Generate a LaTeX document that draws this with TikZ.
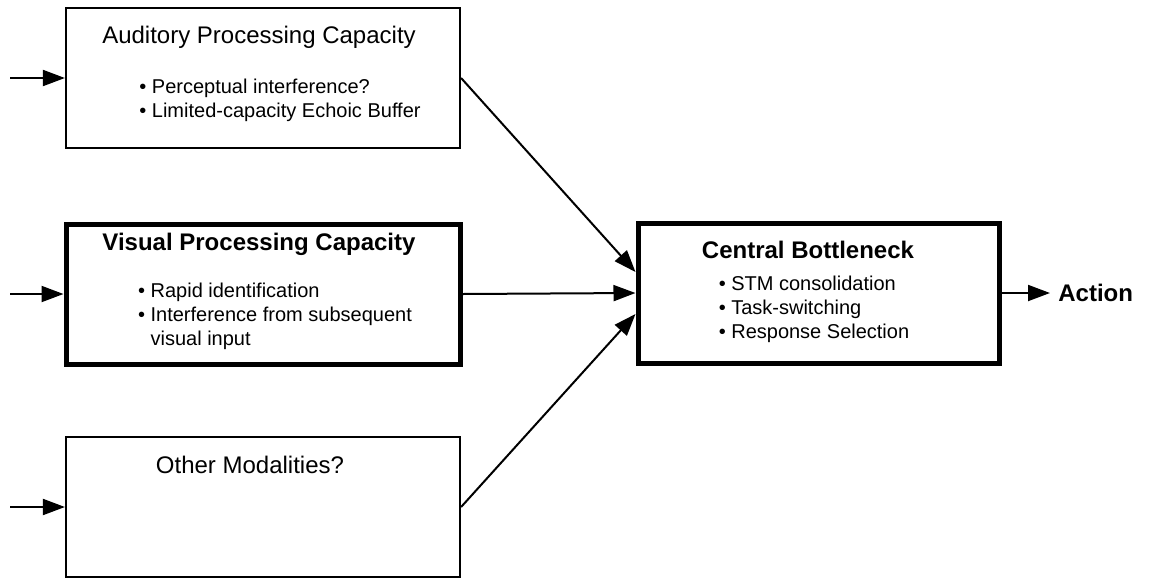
\documentclass[tikz,border=0pt]{standalone}
\usepackage{fontspec}
\setmainfont{Liberation Sans}
\usetikzlibrary{arrows.meta}
\begin{document}
\begin{tikzpicture}[x=0.5pt,y=-0.5pt]
        \tikzstyle{box} = [rectangle, draw=black, line width=1.1pt, inner sep=0pt, minimum width=197pt, minimum height=70pt]
        \tikzstyle{thickbox} = [box, line width=2.5pt]
        \tikzstyle{title} = [font=\fontsize{12pt}{14pt}\selectfont, inner sep=0pt]
        \tikzstyle{list} = [align=left, font=\fontsize{10pt}{12pt}\selectfont, inner sep=0pt]
        \tikzstyle{line} = [-{Triangle[length=11pt,width=8pt]},draw=black,line width=1pt]
        \useasboundingbox (0,0) rectangle (1169,580);
        % boxes
        \node[box] (aud) at (263,78) {};
        \node[thickbox] (vis) at (263,294) {};
        \node[box] (oth) at (263,507) {};
        \node[thickbox,minimum width=180.5pt] (cen) at (818.5,293) {};
        % texts
        \node[title] (audtitle) at (259,37) {Auditory Processing Capacity};
        \node[list] (audlist) at (280,100) {\textbullet\ Perceptual interference?\\ \textbullet\ Limited-capacity Echoic Buffer};
        \node[title] (vistitle) at (259,244) {\bfseries Visual Processing Capacity};
        \node[list] (vislist) at (275,316) {\textbullet\ Rapid identification\\ \textbullet\ Interference from subsequent\\ \hphantom{\textbullet\ }visual input};
        \node[title] (othtitle) at (250,465) {Other Modalities?};
        \node[title] (centitle) at (808,250) {\bfseries Central Bottleneck};
        \node[list] (cenlist) at (814,309) {\textbullet\ STM consolidation\\ \textbullet\ Task-switching\\ \textbullet\ Response Selection};
        \node[title,anchor=west,inner sep=4pt] (act) at (1050,293) {\bfseries Action};
        % inputs
        \coordinate (in1) at (10,78);
        \coordinate (in2) at (10,294);
        \coordinate (in3) at (10,507);
        \draw[line] (in1) to (aud);
        \draw[line] (in2) to (vis);
        \draw[line] (in3) to (oth);
        % to the bottleneck
        \draw[line] (aud.east) to ([yshift=10.5pt]cen.west);
        \draw[line] (vis.east) to (cen.west);
        \draw[line] (oth.east) to ([yshift=-10.5pt]cen.west);
        \draw[line] (cen) to (act);
    \end{tikzpicture}
\end{document}
